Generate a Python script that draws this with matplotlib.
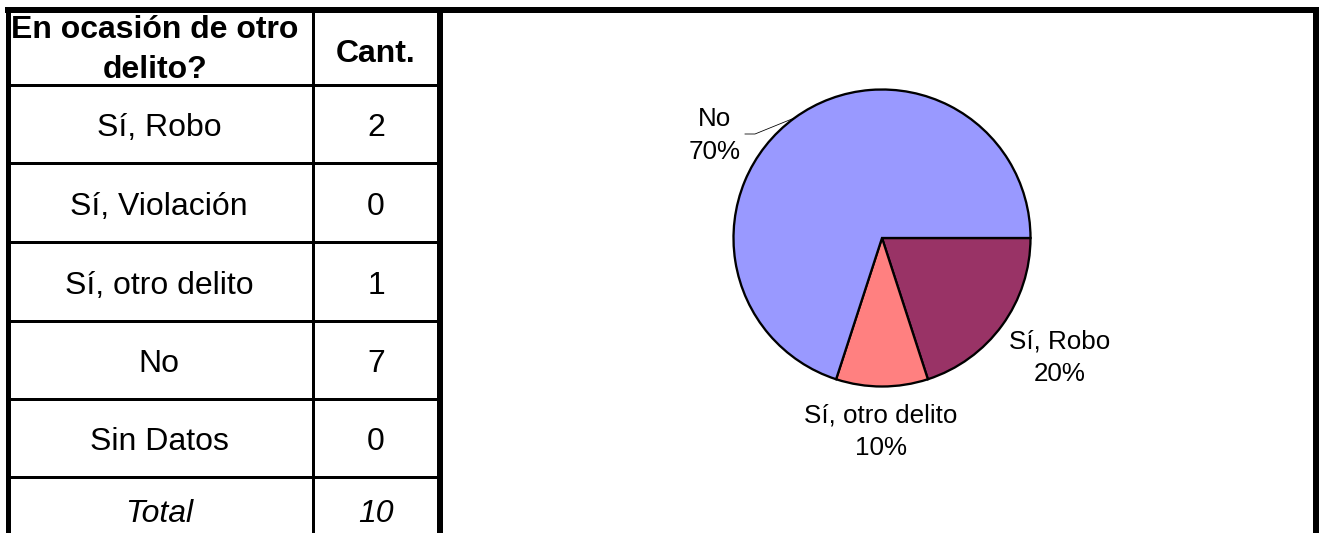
import matplotlib
matplotlib.use("Agg")
import matplotlib.pyplot as plt
import numpy as np

# ---- data ----
header_question = "En ocasión de otro\ndelito?"
header_count = "Cant."
categories = ["Sí, Robo", "Sí, Violación", "Sí, otro delito", "No", "Sin Datos"]
counts = [2, 0, 1, 7, 0]
total_label = "Total"
colors = {"Sí, Robo": "#993366", "Sí, Violación": "#FFFFCC",
          "Sí, otro delito": "#FF8080", "No": "#9999FF", "Sin Datos": "#CCFFFF"}

W, H = 1321, 533
plt.rcParams['font.family'] = ['Liberation Sans', 'DejaVu Sans']
fig = plt.figure(figsize=(W / 100, H / 100), dpi=100)
ax = fig.add_axes([0, 0, 1, 1])
ax.set_xlim(0, W)
ax.set_ylim(0, H)
ax.set_aspect('equal')
ax.axis('off')

def Y(y):
    return H - y

px = 0.72  # points per pixel

def hline(x0, x1, y, lw):
    ax.plot([x0, x1], [Y(y), Y(y)], color='black', lw=lw * px, solid_capstyle='butt')

def vline(x, y0, y1, lw):
    ax.plot([x, x], [Y(y0), Y(y1)], color='black', lw=lw * px, solid_capstyle='butt')

# outer frame
hline(5, 1319, 10, 6)
vline(8, 7, H, 5)
vline(1316, 7, H, 6)
vline(440, 7, H, 6)
# table grid
vline(312.5, 10, H, 3)
row_lines = [85, 163, 242, 321, 399, 477]
for yl in row_lines:
    hline(8, 440, yl, 3)

col1_x, col2_x = 159, 376
fs_tab = 23
for line, yb in zip(header_question.split("\n"), [38, 78]):
    ax.text(col1_x - 4, Y(yb), line, ha='center', va='baseline', fontsize=fs_tab,
            fontweight='bold')
ax.text(col2_x, Y(62), header_count, ha='center', va='baseline', fontsize=fs_tab,
        fontweight='bold')
row_baselines = [136, 215, 294, 372, 450]
for cat, c, yb in zip(categories, counts, row_baselines):
    ax.text(col1_x, Y(yb), cat, ha='center', va='baseline', fontsize=fs_tab)
    ax.text(col2_x, Y(yb), str(c), ha='center', va='baseline', fontsize=fs_tab)
total = sum(counts)
ax.text(col1_x, Y(522), total_label, ha='center', va='baseline', fontsize=fs_tab, style='italic')
ax.text(col2_x, Y(522), str(total), ha='center', va='baseline', fontsize=fs_tab, style='italic')

# ---- pie ----
pie_cats = [c for c, v in zip(categories, counts) if v > 0]
pie_vals = [v for v in counts if v > 0]
cx, cy, R = 882, 238, 148.5
wedges, _ = ax.pie(pie_vals, colors=[colors[c] for c in pie_cats], startangle=0,
                   counterclock=False, center=(cx, Y(cy)), radius=R,
                   wedgeprops=dict(edgecolor='black', linewidth=2.3 * px))
ax.set_xlim(0, W)
ax.set_ylim(0, H)

fs_pie = 18.7
label_pos = {"No": (715, 126), "Sí, Robo": (1060, 348), "Sí, otro delito": (881, 422)}
for w, cat, v in zip(wedges, pie_cats, pie_vals):
    lx, lb = label_pos[cat]
    ax.text(lx, Y(lb), cat, ha='center', va='baseline', fontsize=fs_pie)
    ax.text(lx, Y(lb + 33), f"{round(100 * v / total)}%", ha='center', va='baseline',
            fontsize=fs_pie)
    if cat == "No":
        mid = np.deg2rad((w.theta1 + w.theta2) / 2)
        ex, ey = cx + R * np.cos(mid), Y(cy) + R * np.sin(mid)
        ax.plot([745, 755, ex], [Y(134), Y(134), ey], color='black', lw=0.8 * px)

fig.savefig("out.png", dpi=100)
